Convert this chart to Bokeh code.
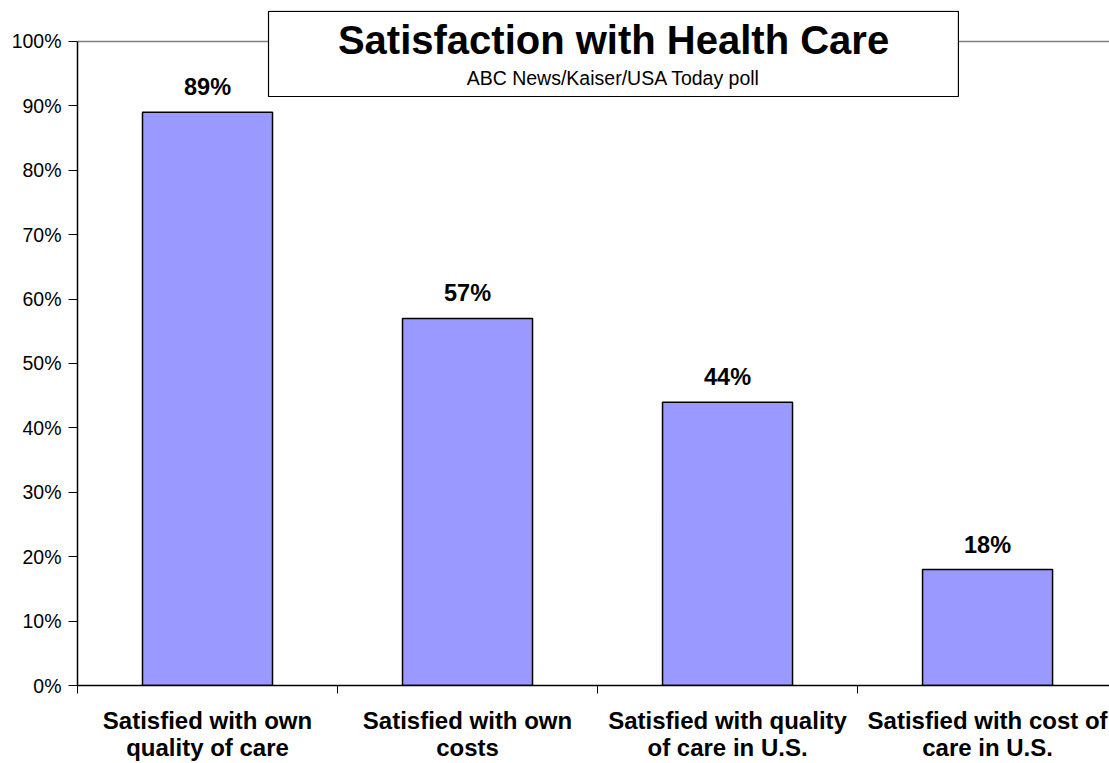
from bokeh.plotting import figure
from bokeh.models import (Range1d, FixedTicker, NumeralTickFormatter, Span,
                          Label, ColumnDataSource)
from bokeh.embed import file_html
from bokeh.resources import INLINE

# ---- data ----
categories = ["Satisfied with own\nquality of care",
              "Satisfied with own\ncosts",
              "Satisfied with quality\nof care in U.S.",
              "Satisfied with cost of\ncare in U.S."]
values = [0.89, 0.57, 0.44, 0.18]
value_labels = ["89%", "57%", "44%", "18%"]
y_ticks = [0.0, 0.1, 0.2, 0.3, 0.4, 0.5, 0.6, 0.7, 0.8, 0.9, 1.0]
title_text = "Satisfaction with Health Care"
subtitle_text = "ABC News/Kaiser/USA Today poll"

FONT = "Liberation Sans"
centers = [i + 0.5 for i in range(len(categories))]
src = ColumnDataSource(dict(x=centers, top=values, lab=value_labels))

p = figure(width=1109, height=763, output_backend="svg", toolbar_location=None,
           x_range=Range1d(0, 3.969), y_range=Range1d(0, 1.0481),
           min_border_left=77, min_border_right=0, min_border_top=10,
           min_border_bottom=78)
p.outline_line_color = None
p.xgrid.visible = False
p.ygrid.visible = False
p.background_fill_color = "white"
p.border_fill_color = "white"

# top line at 100%
p.add_layout(Span(location=1.0, dimension="width", line_color="#808080",
                  line_width=1.5, level="underlay"))

p.vbar(x="x", top="top", width=0.5, bottom=0, source=src,
       fill_color="#9999FF", line_color="black", line_width=1.5)

p.text(x="x", y="top", text="lab", source=src, text_align="center",
       text_baseline="alphabetic", y_offset=-25,
       text_font={"value": FONT}, text_font_style="bold",
       text_font_size="23.5px", text_color="black")

# title box (decoration)
p.quad(left=[0.7346], right=[3.388], bottom=[0.9146], top=[1.0466],
       fill_color="white", line_color="black", line_width=1.2)
p.add_layout(Label(x=2.0615, y=1.0016, text=title_text, text_align="center",
                   text_baseline="alphabetic", text_font=FONT,
                   text_font_style="bold", text_font_size="40px",
                   text_color="black"))
p.add_layout(Label(x=2.0615, y=0.9433, text=subtitle_text, text_align="center",
                   text_baseline="alphabetic", text_font=FONT,
                   text_font_size="19.5px", text_color="black"))

# y axis
ya = p.yaxis[0]
ya.bounds = (0, 1)
ya.ticker = FixedTicker(ticks=y_ticks, minor_ticks=[])
ya.formatter = NumeralTickFormatter(format="0%")
ya.major_tick_in = 0
ya.major_tick_out = 9
ya.minor_tick_out = 0
ya.major_label_standoff = 7
ya.axis_line_color = "black"
ya.axis_line_width = 1.5
ya.major_tick_line_color = "black"
ya.major_label_text_font = FONT
ya.major_label_text_font_size = "19.5px"
ya.major_label_text_color = "black"

# x axis
xa = p.xaxis[0]
xa.ticker = FixedTicker(ticks=centers, minor_ticks=list(range(len(categories) + 1)))
xa.major_label_overrides = {c: lab for c, lab in zip(centers, categories)}
xa.major_tick_in = 0
xa.major_tick_out = 0
xa.minor_tick_in = 0
xa.minor_tick_out = 8
xa.minor_tick_line_color = "black"
xa.axis_line_color = "black"
xa.axis_line_width = 1.5
xa.major_label_standoff = 13
xa.major_label_text_font = FONT
xa.major_label_text_font_style = "bold"
xa.major_label_text_font_size = "24px"
xa.major_label_text_line_height = 1.0
xa.major_label_text_color = "black"

open("out.html", "w").write(file_html(p, INLINE))
